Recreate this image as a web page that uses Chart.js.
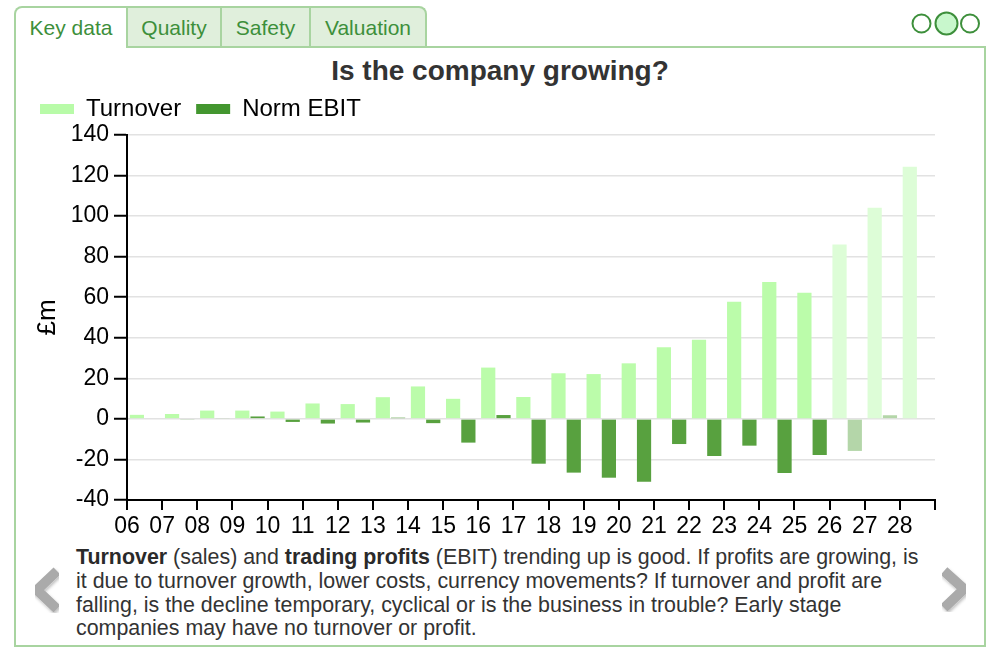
<!DOCTYPE html>
<html>
<head>
<meta charset="utf-8">
<script src="https://cdn.jsdelivr.net/npm/chart.js@4.4.1/dist/chart.umd.min.js"></script>
<style>
  body { margin: 0; width: 1008px; height: 660px; background: #fff; position: relative; overflow: hidden;
         font-family: "Liberation Sans", Arial, sans-serif; }
  .panel { position: absolute; left: 14px; top: 46px; width: 968px; height: 597px; border: 2px solid #a8d4a0; }
  .tab { position: absolute; top: 6px; height: 40px; box-sizing: border-box; border: 2px solid #a8d4a0;
         border-bottom: none; background: #e0efdc; color: #3d8f3b; font-size: 21px; text-align: center; line-height: 40px; }
  .tab.on { background: #fff; height: 42px; z-index: 2; border-top-left-radius: 8px; }
  .tab.last { border-top-right-radius: 8px; }
  .dots { position: absolute; left: 908px; top: 9px; }
  .title { position: absolute; left: 0; width: 1000px; top: 55px; text-align: center; font-size: 28px;
           line-height: 32px; font-weight: bold; color: #333; }
  #chart { position: absolute; left: 0; top: 0; }
  .note { position: absolute; left: 76px; top: 546px; width: 850px; font-size: 21.4px; line-height: 23.8px; color: #333; }
  .note b { color: #2a2a2a; }
  .arrow { position: absolute; top: 562px; }
</style>
</head>
<body>
<div class="panel"></div>
<div class="tab on" style="left:14px;width:114px;">Key data</div>
<div class="tab" style="left:126px;width:96px;">Quality</div>
<div class="tab" style="left:220px;width:91px;">Safety</div>
<div class="tab last" style="left:309px;width:118px;">Valuation</div>

<svg class="dots" width="80" height="30">
  <circle cx="13.5" cy="14.5" r="9" fill="#fff" stroke="#3d8f3b" stroke-width="2"/>
  <circle cx="38.5" cy="14.5" r="11" fill="#c8f7cc" stroke="#3d8f3b" stroke-width="2"/>
  <circle cx="62" cy="14.5" r="9" fill="#fff" stroke="#3d8f3b" stroke-width="2"/>
</svg>

<div class="title">Is the company growing?</div>
<canvas id="chart" width="1008" height="540"></canvas>

<div class="note"><b>Turnover</b> (sales) and <b>trading profits</b> (EBIT) trending up is good. If profits are growing, is it due to turnover growth, lower costs, currency movements? If turnover and profit are falling, is the decline temporary, cyclical or is the business in trouble? Early stage companies may have no turnover or profit.</div>

<svg class="arrow" style="left:25px;" width="44" height="56">
  <defs><filter id="sh"><feDropShadow dx="1" dy="2" stdDeviation="1.5" flood-color="#000" flood-opacity="0.25"/></filter></defs>
  <polyline points="32,9 12,28 32,47" fill="none" stroke="#aaa" stroke-width="10" filter="url(#sh)"/>
</svg>
<svg class="arrow" style="left:934px;" width="44" height="56">
  <defs><filter id="sh2"><feDropShadow dx="1" dy="2" stdDeviation="1.5" flood-color="#000" flood-opacity="0.25"/></filter></defs>
  <polyline points="10,9 30,27 10,46" fill="none" stroke="#aaa" stroke-width="10" filter="url(#sh2)"/>
</svg>

<script>
document.addEventListener("DOMContentLoaded", function () {
    const years = ['06', '07', '08', '09', '10', '11', '12', '13', '14', '15', '16', '17',
                   '18', '19', '20', '21', '22', '23', '24', '25', '26', '27', '28'];
    const turnover = [2.0, 2.4, 4.1, 4.1, 3.6, 7.6, 7.3, 10.7, 16.0, 9.9, 25.3, 10.8,
                      22.5, 22.1, 27.4, 35.3, 39.0, 57.8, 67.5, 62.2, 86.0, 104.1, 124.4];
    const normEbit = [null, -0.3, 0.4, 1.2, -1.5, -2.3, -1.8, 0.6, -2.1, -11.7, 1.9, -22.1,
                      -26.5, -29.0, -31.0, -12.4, -18.3, -13.2, -26.7, -17.8, -15.8, 1.8, null];
    // years from here on are forecasts, drawn faded
    const firstForecast = years.indexOf('26');

    const turnoverColor = '#bbfcaa', turnoverFaded = '#ddfdd7';
    const ebitColor = '#58a13f', ebitFaded = '#b4d6a9';
    const legendColors = ['#b8fba8', '#43962f'];

    const font = '"Liberation Sans", Arial, sans-serif';
    const canvas = document.getElementById('chart');

    // a little more room between the legend and the plot
    const legendGap = {
        id: 'legendGap',
        beforeInit(chart) {
            const legend = chart.legend;
            if (!legend) return;
            const fit = legend.fit;
            legend.fit = function () {
                fit.call(this);
                this.height += 4;
            };
        }
    };

    new Chart(canvas.getContext('2d'), {
        type: 'bar',
        plugins: [legendGap],
        data: {
            labels: years,
            datasets: [
                {
                    label: 'Turnover',
                    data: turnover,
                    backgroundColor: ctx => ctx.dataIndex >= firstForecast ? turnoverFaded : turnoverColor
                },
                {
                    label: 'Norm EBIT',
                    data: normEbit,
                    backgroundColor: ctx => ctx.dataIndex >= firstForecast ? ebitFaded : ebitColor
                }
            ]
        },
        options: {
            responsive: false,
            animation: false,
            categoryPercentage: 0.87,
            barPercentage: 0.93,
            layout: { padding: { left: 25, right: 73, top: 82, bottom: 0 } },
            plugins: {
                legend: {
                    position: 'top',
                    align: 'start',
                    labels: {
                        boxWidth: 34,
                        boxHeight: 10,
                        padding: 15,
                        color: '#000',
                        font: { family: font, size: 24 },
                        generateLabels: chart => chart.data.datasets.map((ds, i) => ({
                            text: ds.label,
                            fillStyle: legendColors[i],
                            strokeStyle: legendColors[i],
                            lineWidth: 0,
                            hidden: false,
                            datasetIndex: i
                        }))
                    }
                },
                tooltip: { enabled: false }
            },
            scales: {
                x: {
                    offset: true,
                    afterFit: scale => { scale.height = 40; },
                    grid: {
                        offset: true,
                        drawOnChartArea: false,
                        color: '#000',
                        lineWidth: 2,
                        tickLength: 10
                    },
                    border: { color: '#000', width: 2 },
                    ticks: {
                        color: '#000',
                        font: { family: font, size: 23 },
                        padding: 3,
                        maxRotation: 0,
                        autoSkip: false,
                        labelOffset: -808 / years.length / 2
                    }
                },
                y: {
                    min: -40,
                    max: 140,
                    afterFit: scale => { scale.width = 102; },
                    title: {
                        display: true,
                        text: '£m',
                        color: '#000',
                        font: { family: font, size: 26 },
                        padding: { top: 7, bottom: 0 }
                    },
                    grid: {
                        color: '#e2e2e2',
                        lineWidth: 1.5,
                        tickColor: '#000',
                        tickWidth: 2,
                        tickLength: 13
                    },
                    border: { color: '#000', width: 2 },
                    ticks: {
                        stepSize: 20,
                        color: '#000',
                        padding: 5,
                        font: { family: font, size: 23 }
                    }
                }
            }
        }
    });
});
</script>
</body>
</html>
